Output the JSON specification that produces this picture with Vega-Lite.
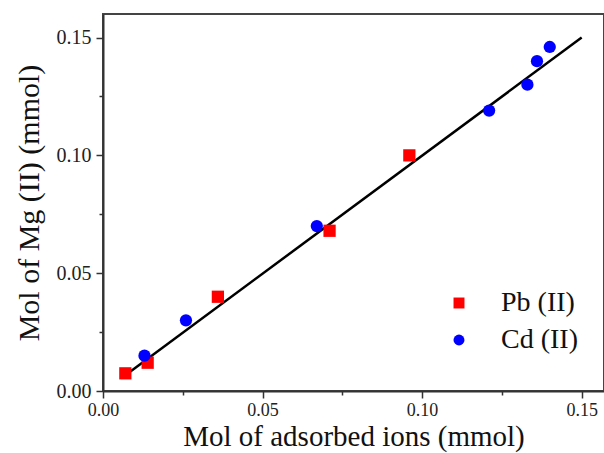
{
  "$schema": "https://vega.github.io/schema/vega-lite/v6.json",
  "width": 501,
  "height": 377,
  "autosize": {"type": "none"},
  "padding": {"left": 103, "top": 14, "right": 0, "bottom": 62},
  "background": "white",
  "config": {
    "view": {"stroke": "#444444", "strokeWidth": 2},
    "font": "Liberation Serif",
    "axis": {
      "grid": false,
      "domainColor": "#333333",
      "domainWidth": 2,
      "tickColor": "#333333",
      "tickWidth": 1.5,
      "labelFont": "Liberation Serif",
      "labelFontSize": 19,
      "labelColor": "#222222",
      "titleFont": "Liberation Serif",
      "titleFontSize": 30,
      "titleFontWeight": "normal",
      "titleColor": "#111111"
    }
  },
  "layer": [
    {
      "data": {"values": [{"x": 0.007, "y": 0.0067}, {"x": 0.15, "y": 0.15}]},
      "mark": {"type": "line", "color": "black", "strokeWidth": 2.5},
      "encoding": {
        "x": {
          "field": "x", "type": "quantitative",
          "scale": {"domain": [0, 0.157], "nice": false, "zero": false},
          "axis": {
            "title": "Mol of adsorbed ions (mmol)",
            "values": [0, 0.025, 0.05, 0.075, 0.1, 0.125, 0.15],
            "labelExpr": "abs(round(datum.value*40)) % 2 == 1 ? '' : format(datum.value, '.2f')",
            "tickSize": {"condition": {"test": "abs(round(datum.value*40)) % 2 == 0", "value": 7}, "value": 4},
            "labelFontSize": 18,
            "labelPadding": 3,
            "titleFontSize": 29,
            "titlePadding": 3,
            "labelFlush": false
          }
        },
        "y": {
          "field": "y", "type": "quantitative",
          "scale": {"domain": [0, 0.16], "nice": false, "zero": false},
          "axis": {
            "title": "Mol of Mg (II) (mmol)",
            "values": [0, 0.025, 0.05, 0.075, 0.1, 0.125, 0.15],
            "labelExpr": "abs(round(datum.value*40)) % 2 == 1 ? '' : format(datum.value, '.2f')",
            "tickSize": {"condition": {"test": "abs(round(datum.value*40)) % 2 == 0", "value": 7}, "value": 4},
            "labelFontSize": 20,
            "labelPadding": 5,
            "titlePadding": 12,
            "labelFlush": false
          }
        }
      }
    },
    {
      "data": {
        "values": [
          {"ion": "Pb (II)", "x": 0.007, "y": 0.0075},
          {"ion": "Pb (II)", "x": 0.014, "y": 0.012},
          {"ion": "Pb (II)", "x": 0.036, "y": 0.040},
          {"ion": "Pb (II)", "x": 0.071, "y": 0.068},
          {"ion": "Pb (II)", "x": 0.096, "y": 0.100},
          {"ion": "Cd (II)", "x": 0.013, "y": 0.015},
          {"ion": "Cd (II)", "x": 0.026, "y": 0.030},
          {"ion": "Cd (II)", "x": 0.067, "y": 0.070},
          {"ion": "Cd (II)", "x": 0.121, "y": 0.119},
          {"ion": "Cd (II)", "x": 0.133, "y": 0.130},
          {"ion": "Cd (II)", "x": 0.136, "y": 0.140},
          {"ion": "Cd (II)", "x": 0.140, "y": 0.146}
        ]
      },
      "mark": {"type": "point", "filled": true, "opacity": 1, "size": 150},
      "encoding": {
        "x": {"field": "x", "type": "quantitative"},
        "y": {"field": "y", "type": "quantitative"},
        "color": {
          "field": "ion", "type": "nominal",
          "scale": {"domain": ["Pb (II)", "Cd (II)"], "range": ["#ff0000", "#0000ff"]},
          "legend": {
            "title": null,
            "orient": "none",
            "legendX": 342,
            "legendY": 275,
            "padding": 0,
            "symbolSize": 120,
            "labelFont": "Liberation Serif",
            "labelFontSize": 28,
            "labelColor": "#111111",
            "labelOffset": 28,
            "rowPadding": 9
          }
        },
        "shape": {
          "field": "ion", "type": "nominal",
          "scale": {"domain": ["Pb (II)", "Cd (II)"], "range": ["square", "circle"]}
        }
      }
    }
  ]
}
